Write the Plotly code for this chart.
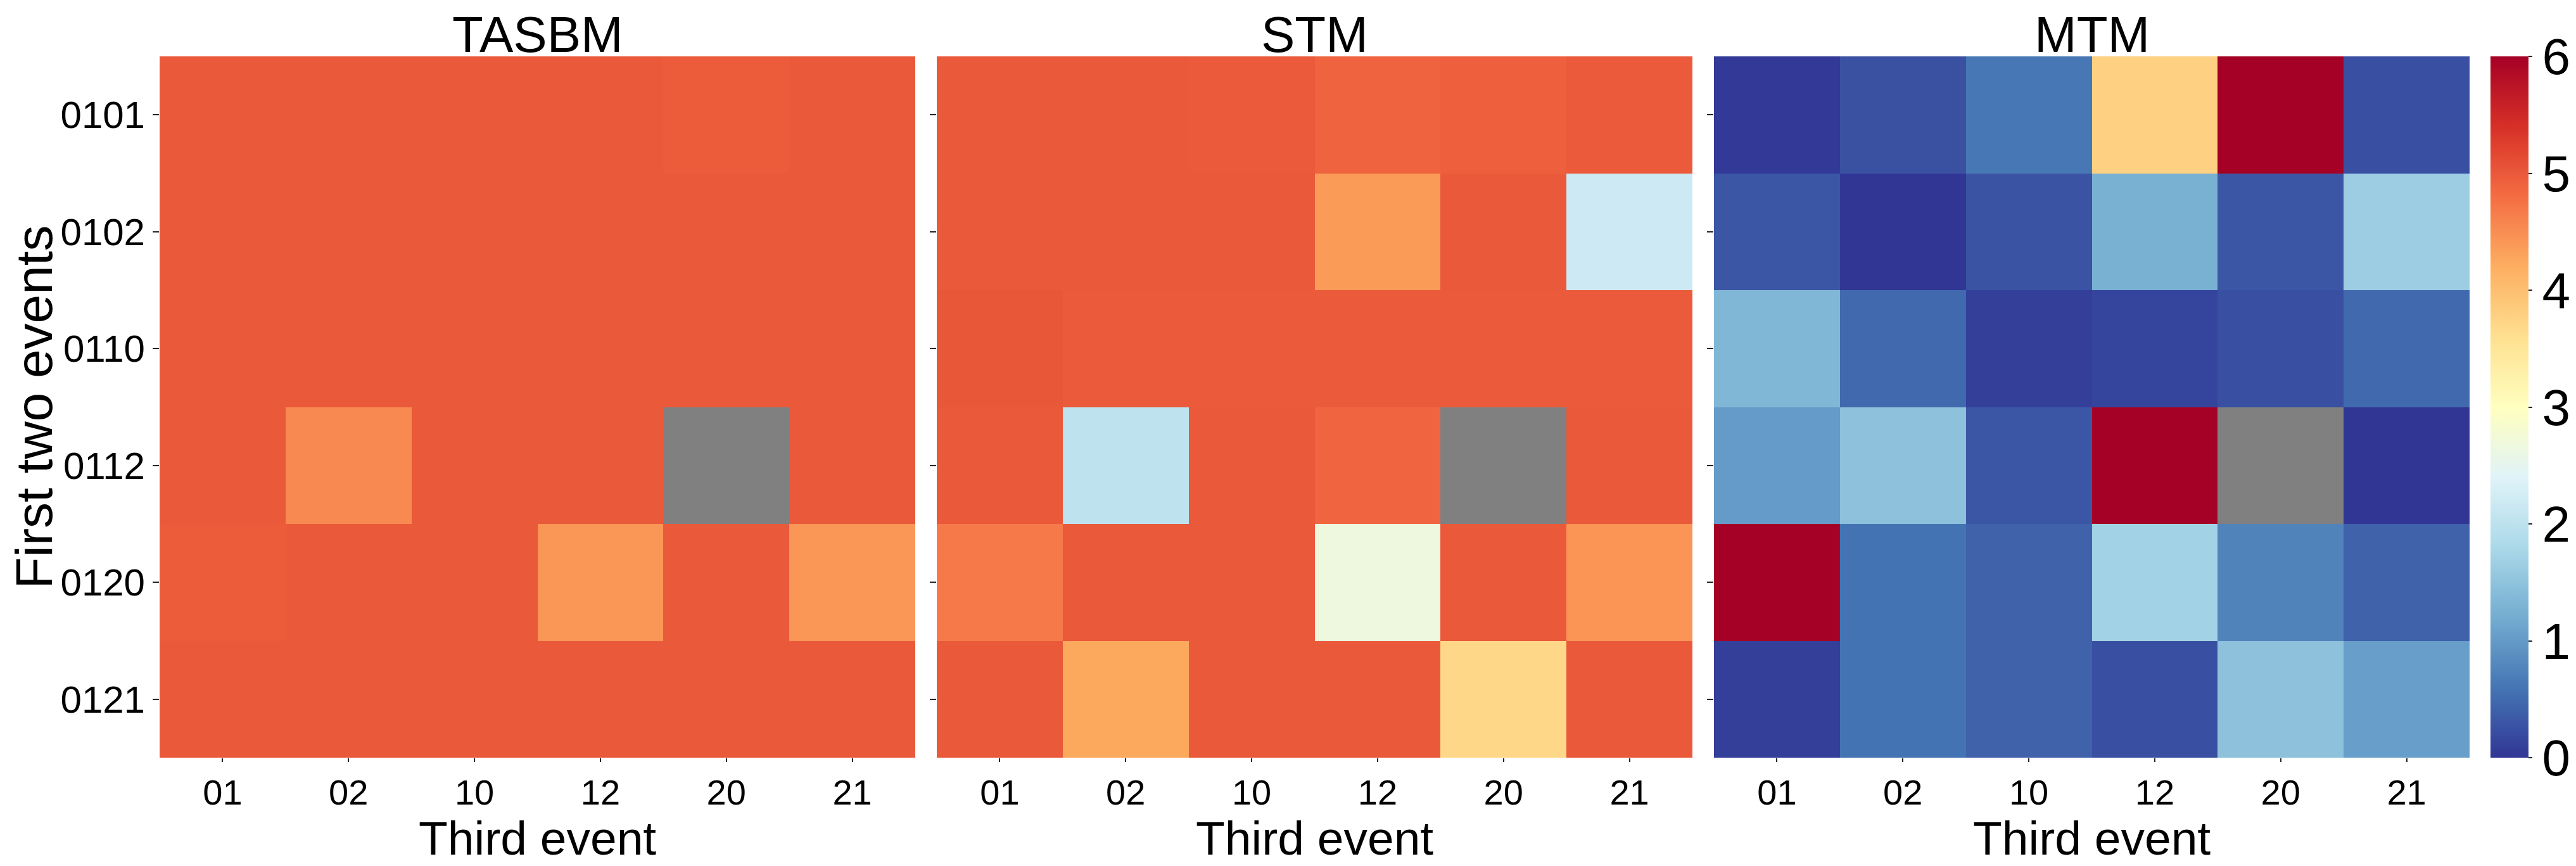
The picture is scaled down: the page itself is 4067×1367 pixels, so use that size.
import plotly.graph_objects as go

# first two events (rows) and third event (columns)
first_two = ["0101", "0102", "0110", "0112", "0120", "0121"]
third = ["01", "02", "10", "12", "20", "21"]
model_names = ["TASBM", "STM", "MTM"]

# None = missing cell (drawn in gray)
tasbm = [
    [5.0, 5.0, 5.0, 5.0, 4.97, 5.0],
    [5.0, 5.0, 5.0, 5.0, 5.0, 5.0],
    [5.0, 5.0, 5.0, 5.0, 5.0, 5.0],
    [5.0, 4.53, 5.0, 5.0, None, 5.0],
    [4.97, 5.0, 5.0, 4.42, 5.0, 4.42],
    [5.0, 5.0, 5.0, 5.0, 5.0, 5.0],
]
stm = [
    [5.0, 5.0, 4.98, 4.9, 4.93, 4.99],
    [5.0, 5.0, 5.0, 4.37, 5.0, 2.18],
    [5.02, 4.98, 4.98, 4.98, 4.98, 4.98],
    [5.0, 2.02, 5.0, 4.88, None, 5.0],
    [4.68, 5.0, 5.0, 2.67, 5.0, 4.43],
    [5.0, 4.25, 5.0, 5.0, 3.7, 5.0],
]
mtm = [
    [0.03, 0.26, 0.62, 3.79, 6.0, 0.25],
    [0.3, 0.0, 0.28, 1.25, 0.3, 1.64],
    [1.33, 0.49, 0.09, 0.13, 0.25, 0.49],
    [1.01, 1.47, 0.3, 6.0, None, 0.0],
    [6.0, 0.58, 0.42, 1.7, 0.75, 0.42],
    [0.09, 0.58, 0.42, 0.25, 1.47, 1.05],
]

# matplotlib RdYlBu_r
rdylbu_r = [
    "#313695", "#4575b4", "#74add1", "#abd9e9", "#e0f3f8", "#ffffbf",
    "#fee090", "#fdae61", "#f46d43", "#d73027", "#a50026",
]
cscale = [[i / 10, c] for i, c in enumerate(rdylbu_r)]

# the page body has an 8px margin, so the figure is a bit smaller than the window
OFF = 8
W, H = 4067 - OFF, 1367 - OFF
FONT = "Liberation Sans, Arial, Helvetica, sans-serif"


def px(x):
    return (x - OFF) / W


def py(y):
    return 1 - (y - OFF) / H


x_domains = [[px(252), px(1445)], [px(1479), px(2672)], [px(2706), px(3899)]]
y_domain = [py(1196), py(89)]

fig = go.Figure()
for i, z in enumerate([tasbm, stm, mtm]):
    n = "" if i == 0 else str(i + 1)
    fig.add_trace(go.Heatmap(
        z=z, x=third, y=first_two,
        coloraxis="coloraxis",
        xaxis="x" + n, yaxis="y" + n,
        hoverongaps=False,
    ))

layout = dict(
    width=W, height=H,
    margin=dict(l=0, r=0, t=0, b=0),
    paper_bgcolor="white",
    plot_bgcolor="#808080",
    font=dict(family=FONT, color="black"),
    coloraxis=dict(
        colorscale=cscale, cmin=0, cmax=6,
        colorbar=dict(
            x=px(3932), xanchor="left", xpad=0,
            y=(y_domain[0] + y_domain[1]) / 2, yanchor="middle", ypad=0,
            len=y_domain[1] - y_domain[0], lenmode="fraction",
            thickness=60, thicknessmode="pixels",
            outlinewidth=0,
            tickvals=[0, 1, 2, 3, 4, 5, 6],
            ticks="outside", ticklen=6, tickwidth=2, tickcolor="#262626",
            tickfont=dict(size=80, family=FONT),
        ),
    ),
    annotations=[],
)

for i in range(3):
    n = "" if i == 0 else str(i + 1)
    layout["xaxis" + n] = dict(
        domain=x_domains[i], anchor="y" + n,
        type="category", showgrid=False, zeroline=False, showline=False,
        ticks="outside", ticklen=6, tickwidth=2, tickcolor="#262626",
        tickfont=dict(size=56),
    )
    layout["yaxis" + n] = dict(
        domain=y_domain, anchor="x" + n,
        type="category", autorange="reversed",
        showgrid=False, zeroline=False, showline=False,
        ticks="outside", ticklen=10, tickwidth=2, tickcolor="#262626",
        tickfont=dict(size=60),
        showticklabels=(i == 0),
    )
    mid = sum(x_domains[i]) / 2
    layout["annotations"].append(dict(
        text=model_names[i], showarrow=False,
        xref="paper", yref="paper", x=mid, y=1,
        xanchor="center", yanchor="top",
        font=dict(size=80),
    ))
    layout["annotations"].append(dict(
        text="Third event", showarrow=False,
        xref="paper", yref="paper", x=mid, y=0,
        xanchor="center", yanchor="bottom",
        font=dict(size=75),
    ))

layout["yaxis"]["title"] = dict(text="First two events", font=dict(size=82), standoff=6)

fig.update_layout(**layout)
fig.write_html("out.html")
